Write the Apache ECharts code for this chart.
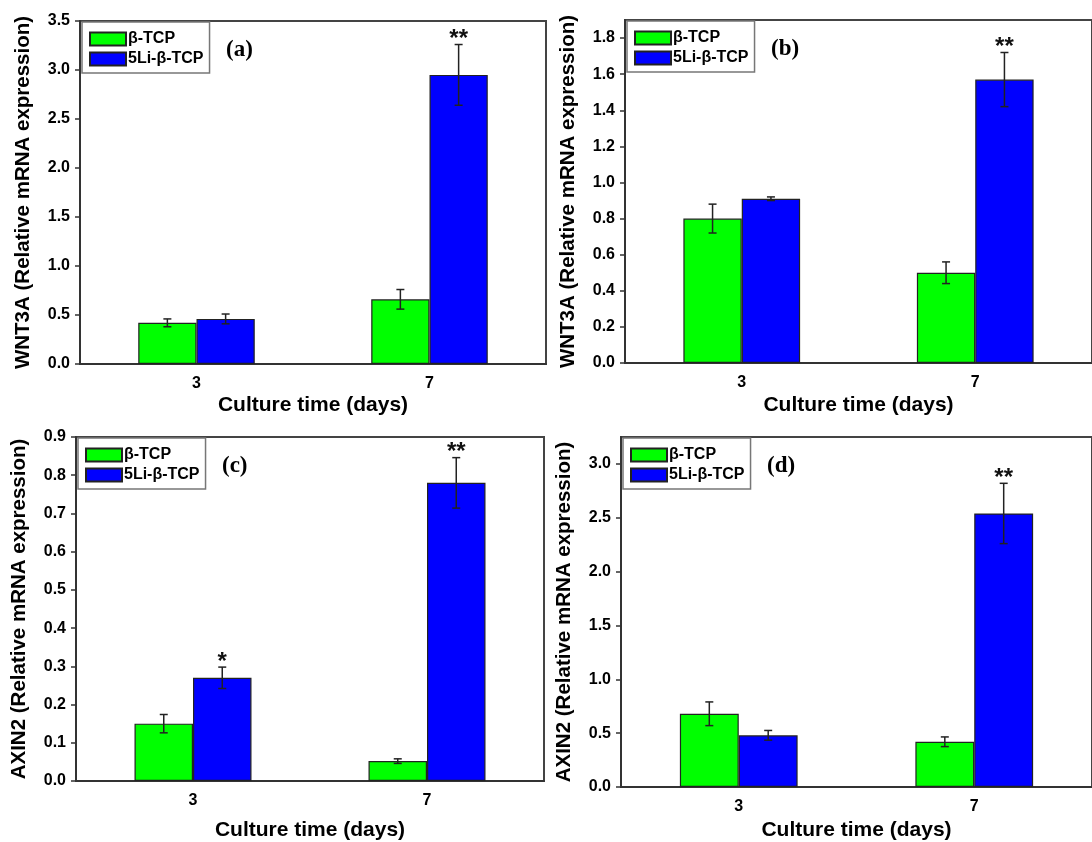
<!DOCTYPE html>
<html>
<head>
<meta charset="utf-8">
<script src="https://cdn.jsdelivr.net/npm/echarts@6/dist/echarts.min.js"></script>
<style>
html,body{margin:0;padding:0;background:#fff;}
#chart{width:1092px;height:842px;}
</style>
</head>
<body>
<div id="chart"></div>
<script>
// ---- data ----
const categories = ['3', '7'];
const seriesNames = ['β-TCP', '5Li-β-TCP'];

// (a) WNT3A
const aTcp = [0.42, 0.66];
const aTcpErr = [0.04, 0.10];
const aLi = [0.46, 2.95];
const aLiErr = [0.05, 0.31];
const aSig = ['', '**'];

// (b) WNT3A
const bTcp = [0.80, 0.50];
const bTcpErr = [0.08, 0.06];
const bLi = [0.91, 1.57];
const bLiErr = [0.01, 0.15];
const bSig = ['', '**'];

// (c) AXIN2
const cTcp = [0.15, 0.052];
const cTcpErr = [0.024, 0.006];
const cLi = [0.27, 0.78];
const cLiErr = [0.028, 0.066];
const cSig = ['*', '**'];

// (d) AXIN2
const dTcp = [0.68, 0.42];
const dTcpErr = [0.11, 0.045];
const dLi = [0.48, 2.54];
const dLiErr = [0.045, 0.28];
const dSig = ['', '**'];

// axis settings per panel
const yMax = [3.5, 1.9, 0.9, 3.25];
const yStep = [0.5, 0.2, 0.1, 0.5];
const yTitles = ['WNT3A (Relative mRNA expression)', 'WNT3A (Relative mRNA expression)',
                 'AXIN2 (Relative mRNA expression)', 'AXIN2 (Relative mRNA expression)'];
const panelLabels = ['(a)', '(b)', '(c)', '(d)'];
const xTitle = 'Culture time (days)';

const panels = [
  {tcp: aTcp, tcpErr: aTcpErr, li: aLi, liErr: aLiErr, sig: aSig},
  {tcp: bTcp, tcpErr: bTcpErr, li: bLi, liErr: bLiErr, sig: bSig},
  {tcp: cTcp, tcpErr: cTcpErr, li: cLi, liErr: cLiErr, sig: cSig},
  {tcp: dTcp, tcpErr: dTcpErr, li: dLi, liErr: dLiErr, sig: dSig}
];

// ---- layout ----
const grids = [
  {left: 80, top: 21, width: 466, height: 343, xGap: 31},
  {left: 625, top: 20, width: 470, height: 343, xGap: 32},
  {left: 76, top: 437, width: 468, height: 344, xGap: 39},
  {left: 621, top: 437, width: 476, height: 350, xGap: 33}
];

const FONT = '"Liberation Sans", Arial, sans-serif';
const GREEN = '#00ff00';
const BLUE = '#0000ff';

function errRender(sign, sigArr) {
  return function (params, api) {
    const i = api.value(0), v = api.value(1), e = api.value(2);
    const band = api.size([1, 0])[0];
    const c = api.coord([i, v]);
    const x = c[0] + sign * band * 0.125;
    const yT = api.coord([i, v + e])[1];
    const yB = api.coord([i, v - e])[1];
    const cap = 4;
    const st = {stroke: '#222', lineWidth: 1.5};
    const children = [
      {type: 'line', shape: {x1: x, y1: yT, x2: x, y2: yB}, style: st},
      {type: 'line', shape: {x1: x - cap, y1: yT, x2: x + cap, y2: yT}, style: st},
      {type: 'line', shape: {x1: x - cap, y1: yB, x2: x + cap, y2: yB}, style: st}
    ];
    const s = sigArr ? sigArr[params.dataIndex] : '';
    if (s) {
      children.push({type: 'text', style: {
        text: s, x: x, y: yT + 7, align: 'center', verticalAlign: 'bottom',
        font: 'bold 24px ' + FONT, fill: '#111'
      }});
    }
    return {type: 'group', children: children};
  };
}

const option = {
  animation: false,
  backgroundColor: '#fff',
  grid: [], xAxis: [], yAxis: [], series: [], legend: [], graphic: []
};

grids.forEach(function (g, k) {
  option.grid.push({
    left: g.left, top: g.top, width: g.width, height: g.height,
    show: true, borderColor: '#444', borderWidth: 2, backgroundColor: 'transparent',
    containLabel: false
  });
  option.xAxis.push({
    type: 'category', gridIndex: k, data: categories,
    name: xTitle, nameLocation: 'middle', nameGap: g.xGap,
    nameTextStyle: {fontFamily: FONT, fontWeight: 'bold', fontSize: 21, color: '#000'},
    axisLine: {lineStyle: {color: '#333', width: 2}},
    axisTick: {alignWithLabel: true, length: 6, lineStyle: {color: '#333', width: 1.5}},
    axisLabel: {fontFamily: FONT, fontWeight: 'bold', fontSize: 16, color: '#000', margin: 12},
    splitLine: {show: false}
  });
  option.yAxis.push({
    type: 'value', gridIndex: k, min: 0, max: yMax[k], interval: yStep[k],
    name: yTitles[k], nameLocation: 'middle', nameGap: 46, nameRotate: 90,
    nameTextStyle: {fontFamily: FONT, fontWeight: 'bold', fontSize: 20.5, color: '#000'},
    axisLine: {show: true, lineStyle: {color: '#333', width: 2}},
    axisTick: {show: true, length: 5, lineStyle: {color: '#333', width: 1.5}},
    axisLabel: {
      fontFamily: FONT, fontWeight: 'bold', fontSize: 16, color: '#000', margin: 10,
      showMaxLabel: (k === 1 || k === 3) ? false : true,
      formatter: function (v) { return v.toFixed(1); }
    },
    splitLine: {show: false}
  });
  const p = panels[k];
  option.series.push({
    type: 'bar', name: seriesNames[0], xAxisIndex: k, yAxisIndex: k,
    data: p.tcp, barWidth: '25%', barGap: '0%',
    itemStyle: {color: GREEN, borderColor: '#222', borderWidth: 1.2}
  });
  option.series.push({
    type: 'bar', name: seriesNames[1], xAxisIndex: k, yAxisIndex: k,
    data: p.li, barWidth: '25%', barGap: '0%',
    itemStyle: {color: BLUE, borderColor: '#222', borderWidth: 1.2}
  });
  option.series.push({
    type: 'custom', xAxisIndex: k, yAxisIndex: k, z: 5,
    renderItem: errRender(-1, null),
    encode: {x: 0, y: 1},
    data: p.tcp.map(function (v, i) { return [i, v, p.tcpErr[i]]; })
  });
  option.series.push({
    type: 'custom', xAxisIndex: k, yAxisIndex: k, z: 5,
    renderItem: errRender(1, p.sig),
    encode: {x: 0, y: 1},
    data: p.li.map(function (v, i) { return [i, v, p.liErr[i]]; })
  });
  option.legend.push({
    data: seriesNames, orient: 'vertical', left: g.left + 2, top: g.top + 1,
    selectedMode: false, itemWidth: 36, itemHeight: 13, itemGap: 4,
    padding: [9, 6, 6, 7], borderColor: '#777', borderWidth: 1.5,
    backgroundColor: '#fff', icon: 'rect',
    textStyle: {fontFamily: FONT, fontWeight: 'bold', fontSize: 16, color: '#000', padding: [0, 0, 0, -3]}
  });
  option.graphic.push({
    type: 'text', left: g.left + 146, top: g.top + 18,
    style: {text: panelLabels[k], font: 'bold 23px "Liberation Serif", "Times New Roman", serif', fill: '#000'}
  });
});

const chart = echarts.init(document.getElementById('chart'), null, {renderer: 'canvas'});
chart.setOption(option);
</script>
</body>
</html>
